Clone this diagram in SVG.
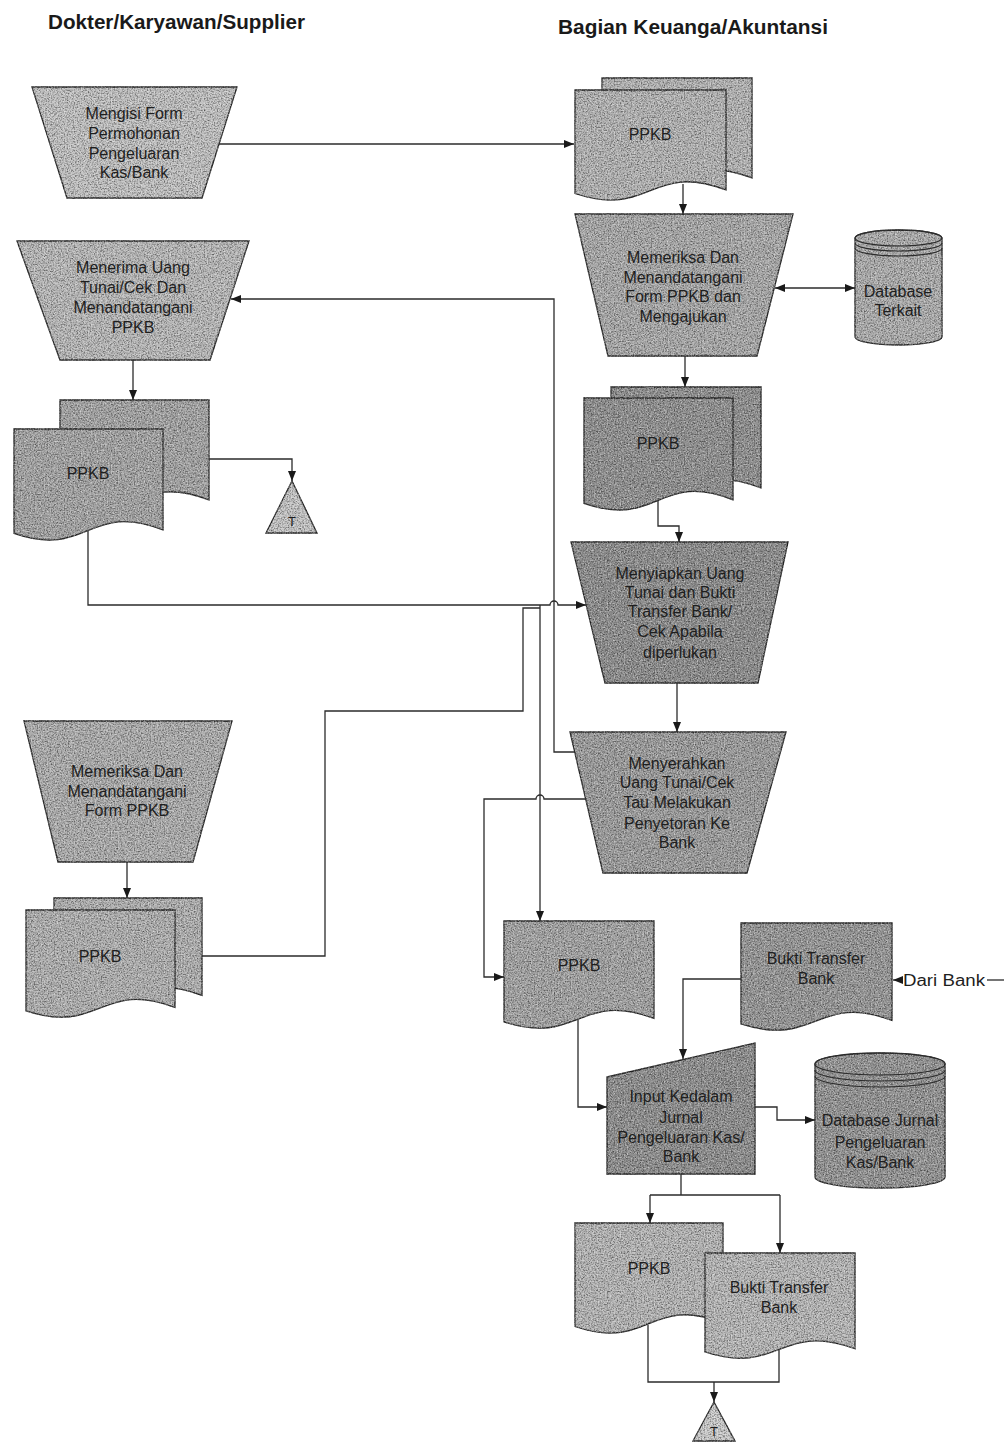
<svg xmlns="http://www.w3.org/2000/svg" width="1007" height="1442" viewBox="0 0 1007 1442">
<defs>
<style>
.s{stroke:#2b2b2b;stroke-width:1.3;filter:url(#grain)}
.t{font-family:"Liberation Sans",Arial,sans-serif;font-size:16px;fill:#1e1e1e;text-anchor:middle}
.h{font-family:"Liberation Sans",Arial,sans-serif;font-size:20px;font-weight:bold;fill:#1a1a1a}
.c{fill:none;stroke:#2b2b2b;stroke-width:1.3}
.a{marker-end:url(#ah)}
.b{marker-start:url(#ah);marker-end:url(#ah)}
</style>
<marker id="ah" viewBox="0 0 10 8" refX="10" refY="4" markerWidth="10" markerHeight="8" markerUnits="userSpaceOnUse" orient="auto-start-reverse"><path d="M0,0 L10,4 L0,8 z" fill="#1a1a1a"/></marker>
<filter id="grain" x="-2%" y="-2%" width="104%" height="104%" color-interpolation-filters="sRGB">
<feTurbulence type="fractalNoise" baseFrequency="0.7" numOctaves="2" seed="5" result="n"/>
<feColorMatrix in="n" type="matrix" values="0 0 0 0 0  0 0 0 0 0  0 0 0 0 0  1.2 0 0 0 -0.5" result="d"/>
<feComposite in="d" in2="SourceAlpha" operator="in" result="d2"/>
<feColorMatrix in="n" type="matrix" values="0 0 0 0 1  0 0 0 0 1  0 0 0 0 1  0 1.2 0 0 -0.52" result="l"/>
<feComposite in="l" in2="SourceAlpha" operator="in" result="l2"/>
<feMerge><feMergeNode in="SourceGraphic"/><feMergeNode in="d2"/><feMergeNode in="l2"/></feMerge>
</filter>
</defs>
<rect width="1007" height="1442" fill="#ffffff"/>

<g id="titles">
<text class="h" x="48" y="29" textLength="257" lengthAdjust="spacingAndGlyphs">Dokter/Karyawan/Supplier</text>
<text class="h" x="558" y="34" textLength="270" lengthAdjust="spacingAndGlyphs">Bagian Keuanga/Akuntansi</text>
</g>

<g id="n-mengisi">
<polygon class="s" fill="#c2c2c2" points="32,87 237,87 202,198 67,198"/>
<text class="t" x="134" y="119">Mengisi Form</text>
<text class="t" x="134" y="139">Permohonan</text>
<text class="t" x="134" y="159">Pengeluaran</text>
<text class="t" x="134" y="178">Kas/Bank</text>
</g>

<g id="n-ppkb1">
<path class="s" fill="#b4b4b4" d="M602,78 H752 V178 C677,149.3 677,206.8 602,181.5 Z"/>
<path class="s" fill="#b4b4b4" d="M575,90 H726 V190 C650.5,161.3 650.5,218.8 575,193.5 Z"/>
<text class="t" x="650" y="140">PPKB</text>
</g>

<g id="n-memeriksa1">
<polygon class="s" fill="#a9a9a9" points="575,214 793,214 757,356 608,356"/>
<text class="t" x="683" y="263">Memeriksa Dan</text>
<text class="t" x="683" y="283">Menandatangani</text>
<text class="t" x="683" y="302">Form PPKB dan</text>
<text class="t" x="683" y="322">Mengajukan</text>
</g>

<g id="n-dbterkait">
<path class="s" fill="#adadad" d="M855,238 A43.5,8 0 0 1 942,238 V337 A43.5,8 0 0 1 855,337 Z"/>
<ellipse cx="898.5" cy="238" rx="43.5" ry="8" fill="none" stroke="#2b2b2b" stroke-width="1.2"/>
<path d="M855,243 A43.5,8 0 0 0 942,243 M855,248 A43.5,8 0 0 0 942,248" fill="none" stroke="#2b2b2b" stroke-width="1.1"/>
<text class="t" x="898" y="297">Database</text>
<text class="t" x="898" y="316">Terkait</text>
</g>

<g id="n-menerima">
<polygon class="s" fill="#b9b9b9" points="17,241 249,241 210,360 60,360"/>
<text class="t" x="133" y="273">Menerima Uang</text>
<text class="t" x="133" y="293">Tunai/Cek Dan</text>
<text class="t" x="133" y="313">Menandatangani</text>
<text class="t" x="133" y="333">PPKB</text>
</g>

<g id="n-ppkb-left">
<path class="s" fill="#a4a4a4" d="M60,400 H209 V500 C134.5,471.3 134.5,528.8 60,503.5 Z"/>
<path class="s" fill="#a4a4a4" d="M14,429 H163 V529.9 C88.5,500.9 88.5,558.9 14,533.4 Z"/>
<text class="t" x="88" y="479">PPKB</text>
</g>

<g id="n-arsip1">
<polygon class="s" fill="#c6c6c6" points="292,481 317,533 266,533"/>
<text class="t" x="292" y="526" style="font-size:13px">T</text>
</g>

<g id="n-ppkb2">
<path class="s" fill="#8f8f8f" d="M611,387 H761 V487.9 C686,458.9 686,516.9 611,491.4 Z"/>
<path class="s" fill="#8f8f8f" d="M584,398 H733 V499.8 C658.5,470.5 658.5,529 584,503.3 Z"/>
<text class="t" x="658" y="449">PPKB</text>
</g>

<g id="n-menyiapkan">
<polygon class="s" fill="#8c8c8c" points="571,542 788,542 758,683 605,683"/>
<text class="t" x="680" y="579">Menyiapkan Uang</text>
<text class="t" x="680" y="598">Tunai dan Bukti</text>
<text class="t" x="680" y="617">Transfer Bank/</text>
<text class="t" x="680" y="637">Cek Apabila</text>
<text class="t" x="680" y="658">diperlukan</text>
</g>

<g id="n-menyerahkan">
<polygon class="s" fill="#9c9c9c" points="570,732 786,732 747,873 603,873"/>
<text class="t" x="677" y="769">Menyerahkan</text>
<text class="t" x="677" y="788">Uang Tunai/Cek</text>
<text class="t" x="677" y="808">Tau Melakukan</text>
<text class="t" x="677" y="829">Penyetoran Ke</text>
<text class="t" x="677" y="848">Bank</text>
</g>

<g id="n-memeriksa2">
<polygon class="s" fill="#adadad" points="24,721 232,721 193,862 58,862"/>
<text class="t" x="127" y="777">Memeriksa Dan</text>
<text class="t" x="127" y="797">Menandatangani</text>
<text class="t" x="127" y="816">Form PPKB</text>
</g>

<g id="n-ppkb-left2">
<path class="s" fill="#b0b0b0" d="M54,898 H202 V995.4 C128,967.4 128,1023.4 54,998.8 Z"/>
<path class="s" fill="#b0b0b0" d="M26,910 H175 V1007.4 C100.5,979.4 100.5,1035.4 26,1010.8 Z"/>
<text class="t" x="100" y="962">PPKB</text>
</g>

<g id="n-ppkb3">
<path class="s" fill="#a3a3a3" d="M504,921 H654 V1018.4 C579,990.4 579,1046.4 504,1021.8 Z"/>
<text class="t" x="579" y="971">PPKB</text>
</g>

<g id="n-bukti1">
<path class="s" fill="#969696" d="M741,923 H892 V1020.4 C816.5,992.4 816.5,1048.4 741,1023.8 Z"/>
<text class="t" x="816" y="964">Bukti Transfer</text>
<text class="t" x="816" y="984">Bank</text>
</g>

<g id="n-daribank">
<text class="t" x="903" y="986" style="text-anchor:start" textLength="82" lengthAdjust="spacingAndGlyphs">Dari Bank</text>
</g>

<g id="n-input">
<polygon class="s" fill="#8d8d8d" points="607,1077 755,1043 755,1174 607,1174"/>
<text class="t" x="681" y="1102">Input Kedalam</text>
<text class="t" x="681" y="1123">Jurnal</text>
<text class="t" x="681" y="1143">Pengeluaran Kas/</text>
<text class="t" x="681" y="1162">Bank</text>
</g>

<g id="n-dbjurnal">
<path class="s" fill="#939393" d="M815,1064 A65,11 0 0 1 945,1064 V1177 A65,11 0 0 1 815,1177 Z"/>
<ellipse cx="880" cy="1064" rx="65" ry="11" fill="none" stroke="#2b2b2b" stroke-width="1.2"/>
<path d="M815,1070 A65,11 0 0 0 945,1070 M815,1076 A65,11 0 0 0 945,1076" fill="none" stroke="#2b2b2b" stroke-width="1.1"/>
<text class="t" x="880" y="1126">Database Jurnal</text>
<text class="t" x="880" y="1148">Pengeluaran</text>
<text class="t" x="880" y="1168">Kas/Bank</text>
</g>

<g id="n-ppkb4">
<path class="s" fill="#b6b6b6" d="M575,1223 H723 V1323 C649,1294.3 649,1351.8 575,1326.5 Z"/>
<text class="t" x="649" y="1274">PPKB</text>
</g>

<g id="n-bukti2">
<path class="s" fill="#b8b8b8" d="M705,1253 H855 V1348.7 C780,1321.2 780,1376.2 705,1352 Z"/>
<text class="t" x="779" y="1293">Bukti Transfer</text>
<text class="t" x="779" y="1313">Bank</text>
</g>

<g id="n-arsip2">
<polygon class="s" fill="#cdcdcd" points="714,1402 735,1441 693,1441"/>
<text class="t" x="714" y="1436" style="font-size:13px">T</text>
</g>

<g id="connectors">
<path class="c a" d="M219,144 H574"/>
<path class="c a" d="M683,184 V214"/>
<path class="c b" d="M775,288 H855"/>
<path class="c a" d="M685,356 V387"/>
<path class="c a" d="M658,501 V526 H679 V542"/>
<path class="c a" d="M677,683 V732"/>
<path class="c a" d="M575,752 H554 V299 H231"/>
<path class="c a" d="M133,360 V400"/>
<path class="c a" d="M209,459 H292 V481"/>
<path class="c a" d="M88,531 V605 H550 a4,4 0 0 1 8,0 H586"/>
<path class="c" d="M202,956 H325 V711 H523 V608 H540"/>
<path class="c a" d="M540,605 V921"/>
<path class="c a" d="M586,799 H544 a4,4 0 0 0 -8,0 H484 V977 H504"/>
<path class="c a" d="M127,862 V898"/>
<path class="c a" d="M578,1020 V1107 H607"/>
<path class="c a" d="M741,979 H683 V1059"/>
<path class="c a" d="M903,980 H893"/>
<path class="c" d="M987,980 H1004"/>
<path class="c a" d="M755,1107 H777 V1120 H815"/>
<path class="c" d="M681,1174 V1195 M650,1195 H780"/>
<path class="c a" d="M650,1195 V1223"/>
<path class="c a" d="M780,1195 V1253"/>
<path class="c" d="M648,1325 V1382 H779 V1350"/>
<path class="c a" d="M714,1382 V1402"/>
</g>
</svg>
